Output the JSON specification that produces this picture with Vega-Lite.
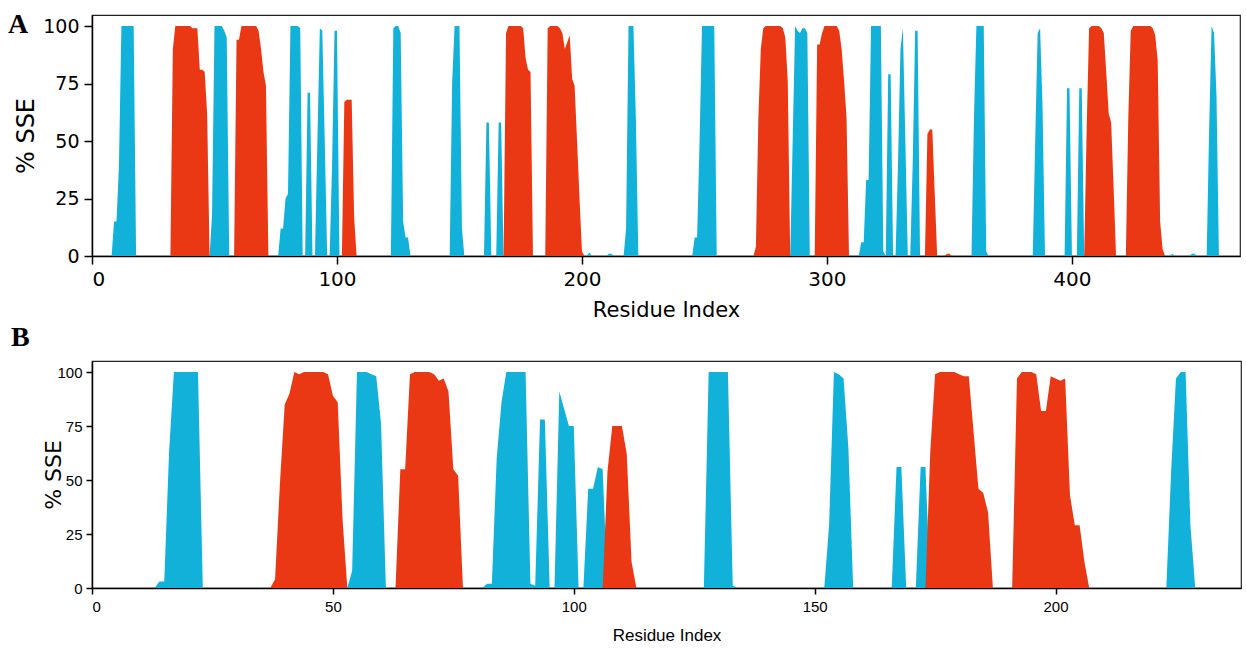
{
 "$schema": "https://vega.github.io/schema/vega-lite/v6.json",
 "background": "white",
 "padding": {"left": 7, "top": 10, "right": 2, "bottom": 0},
 "bounds": "flush",
 "spacing": 105,
 "config": {
   "view": {"stroke": "#222", "strokeWidth": 1.2},
   "axis": {"domainColor": "black", "tickColor": "black", "labelColor": "black", "titleColor": "black", "grid": false, "domainWidth": 1.5, "tickWidth": 1.5, "titleFontWeight": "normal"}
 },
 "datasets": {
  "aE": [
   {"r":8,"v":0},{"r":9,"v":15},{"r":10,"v":15},{"r":11,"v":39},{"r":12,"v":100},{"r":13,"v":100},{"r":14,"v":100},{"r":15,"v":100},{"r":16,"v":100},{"r":17,"v":100},{"r":18,"v":0},
   {"r":48,"v":0},{"r":49,"v":18},{"r":50,"v":100},{"r":51,"v":100},{"r":52,"v":100},{"r":53,"v":100},{"r":54,"v":98},{"r":55,"v":95},{"r":56,"v":0},
   {"r":76,"v":0},{"r":77,"v":12},{"r":78,"v":12},{"r":79,"v":25},{"r":80,"v":27},{"r":81,"v":100},{"r":82,"v":100},{"r":83,"v":100},{"r":84,"v":100},{"r":85,"v":99},{"r":86,"v":0},
   {"r":87,"v":0},{"r":88,"v":71},{"r":89,"v":71},{"r":90,"v":0},
   {"r":91,"v":0},{"r":92,"v":50},{"r":93,"v":99},{"r":94,"v":98},{"r":95,"v":50},{"r":96,"v":0},
   {"r":97,"v":0},{"r":98,"v":40},{"r":99,"v":98},{"r":100,"v":98},{"r":101,"v":0},
   {"r":122,"v":0},{"r":123,"v":99},{"r":124,"v":100},{"r":125,"v":100},{"r":126,"v":97},{"r":127,"v":15},{"r":128,"v":8},{"r":129,"v":8},{"r":130,"v":0},
   {"r":146,"v":0},{"r":147,"v":75},{"r":148,"v":100},{"r":149,"v":100},{"r":150,"v":100},{"r":151,"v":12},{"r":152,"v":0},
   {"r":160,"v":0},{"r":161,"v":58},{"r":162,"v":58},{"r":163,"v":0},
   {"r":165,"v":0},{"r":166,"v":58},{"r":167,"v":58},{"r":168,"v":0},
   {"r":202,"v":0},{"r":203,"v":1.5},{"r":204,"v":0},
   {"r":210,"v":0},{"r":211,"v":1},{"r":212,"v":1},{"r":213,"v":0},
   {"r":217,"v":0},{"r":218,"v":12},{"r":219,"v":100},{"r":220,"v":100},{"r":221,"v":100},{"r":222,"v":60},{"r":223,"v":0},
   {"r":245,"v":0},{"r":246,"v":8},{"r":247,"v":8},{"r":248,"v":50},{"r":249,"v":100},{"r":250,"v":100},{"r":251,"v":100},{"r":252,"v":100},{"r":253,"v":100},{"r":254,"v":100},{"r":255,"v":0},
   {"r":285,"v":0},{"r":286,"v":50},{"r":287,"v":100},{"r":288,"v":98},{"r":289,"v":97},{"r":290,"v":99},{"r":291,"v":99},{"r":292,"v":97},{"r":293,"v":0},
   {"r":313,"v":0},{"r":314,"v":6},{"r":315,"v":6},{"r":316,"v":33},{"r":317,"v":33},{"r":318,"v":100},{"r":319,"v":100},{"r":320,"v":100},{"r":321,"v":100},{"r":322,"v":100},{"r":323,"v":2},{"r":324,"v":0},{"r":325,"v":79},{"r":326,"v":79},{"r":327,"v":0},
   {"r":328,"v":0},{"r":329,"v":40},{"r":330,"v":90},{"r":331,"v":99},{"r":332,"v":50},{"r":333,"v":0},
   {"r":334,"v":0},{"r":335,"v":40},{"r":336,"v":98},{"r":337,"v":98},{"r":338,"v":0},
   {"r":359,"v":0},{"r":360,"v":60},{"r":361,"v":100},{"r":362,"v":100},{"r":363,"v":100},{"r":364,"v":100},{"r":365,"v":2},{"r":366,"v":0},
   {"r":384,"v":0},{"r":385,"v":50},{"r":386,"v":97},{"r":387,"v":99},{"r":388,"v":65},{"r":389,"v":0},
   {"r":397,"v":0},{"r":398,"v":73},{"r":399,"v":73},{"r":400,"v":0},
   {"r":402,"v":0},{"r":403,"v":73},{"r":404,"v":73},{"r":405,"v":0},
   {"r":440,"v":0},{"r":441,"v":1},{"r":442,"v":0},
   {"r":448,"v":0},{"r":449,"v":1},{"r":450,"v":1},{"r":451,"v":0},
   {"r":455,"v":0},{"r":456,"v":55},{"r":457,"v":100},{"r":458,"v":97},{"r":459,"v":70},{"r":460,"v":0}
  ],
  "aH": [
   {"r":32,"v":0},{"r":33,"v":90},{"r":34,"v":100},{"r":35,"v":100},{"r":36,"v":100},{"r":37,"v":100},{"r":38,"v":100},{"r":39,"v":100},{"r":40,"v":100},{"r":41,"v":99},{"r":42,"v":99},{"r":43,"v":99},{"r":44,"v":81},{"r":45,"v":81},{"r":46,"v":80},{"r":47,"v":62},{"r":48,"v":0},
   {"r":58,"v":0},{"r":59,"v":94},{"r":60,"v":94},{"r":61,"v":100},{"r":62,"v":100},{"r":63,"v":100},{"r":64,"v":100},{"r":65,"v":100},{"r":66,"v":100},{"r":67,"v":100},{"r":68,"v":98},{"r":69,"v":90},{"r":70,"v":80},{"r":71,"v":74},{"r":72,"v":0},
   {"r":102,"v":0},{"r":103,"v":67},{"r":104,"v":68},{"r":105,"v":68},{"r":106,"v":68},{"r":107,"v":17},{"r":108,"v":0},
   {"r":168,"v":0},{"r":169,"v":97},{"r":170,"v":100},{"r":171,"v":100},{"r":172,"v":100},{"r":173,"v":100},{"r":174,"v":100},{"r":175,"v":100},{"r":176,"v":99},{"r":177,"v":86},{"r":178,"v":81},{"r":179,"v":80},{"r":180,"v":0},
   {"r":185,"v":0},{"r":186,"v":99},{"r":187,"v":100},{"r":188,"v":100},{"r":189,"v":100},{"r":190,"v":100},{"r":191,"v":99},{"r":192,"v":97},{"r":193,"v":90},{"r":194,"v":93},{"r":195,"v":96},{"r":196,"v":77},{"r":197,"v":74},{"r":198,"v":50},{"r":199,"v":25},{"r":200,"v":2},{"r":201,"v":0},
   {"r":270,"v":0},{"r":271,"v":4},{"r":272,"v":60},{"r":273,"v":90},{"r":274,"v":99},{"r":275,"v":100},{"r":276,"v":100},{"r":277,"v":100},{"r":278,"v":100},{"r":279,"v":100},{"r":280,"v":100},{"r":281,"v":100},{"r":282,"v":99},{"r":283,"v":95},{"r":284,"v":76},{"r":285,"v":0},
   {"r":295,"v":0},{"r":296,"v":92},{"r":297,"v":92},{"r":298,"v":97},{"r":299,"v":100},{"r":300,"v":100},{"r":301,"v":100},{"r":302,"v":100},{"r":303,"v":100},{"r":304,"v":100},{"r":305,"v":98},{"r":306,"v":90},{"r":307,"v":76},{"r":308,"v":60},{"r":309,"v":0},
   {"r":340,"v":0},{"r":341,"v":53},{"r":342,"v":55},{"r":343,"v":55},{"r":344,"v":27},{"r":345,"v":0},
   {"r":348,"v":0},{"r":349,"v":1},{"r":350,"v":1},{"r":351,"v":0},
   {"r":405,"v":0},{"r":406,"v":55},{"r":407,"v":99},{"r":408,"v":100},{"r":409,"v":100},{"r":410,"v":100},{"r":411,"v":100},{"r":412,"v":99},{"r":413,"v":97},{"r":414,"v":80},{"r":415,"v":62},{"r":416,"v":58},{"r":417,"v":30},{"r":418,"v":0},
   {"r":422,"v":0},{"r":423,"v":60},{"r":424,"v":98},{"r":425,"v":100},{"r":426,"v":100},{"r":427,"v":100},{"r":428,"v":100},{"r":429,"v":100},{"r":430,"v":100},{"r":431,"v":100},{"r":432,"v":100},{"r":433,"v":99},{"r":434,"v":96},{"r":435,"v":85},{"r":436,"v":15},{"r":437,"v":3},{"r":438,"v":0}
  ],
  "bE": [
   {"r":13,"v":0},{"r":14,"v":3},{"r":15,"v":3},{"r":16,"v":63},{"r":17,"v":100},{"r":18,"v":100},{"r":19,"v":100},{"r":20,"v":100},{"r":21,"v":100},{"r":22,"v":100},{"r":23,"v":0},
   {"r":53,"v":0},{"r":54,"v":8},{"r":55,"v":100},{"r":56,"v":100},{"r":57,"v":100},{"r":58,"v":99},{"r":59,"v":98},{"r":60,"v":76},{"r":61,"v":0},
   {"r":81,"v":0},{"r":82,"v":2},{"r":83,"v":2},{"r":84,"v":60},{"r":85,"v":86},{"r":86,"v":100},{"r":87,"v":100},{"r":88,"v":100},{"r":89,"v":100},{"r":90,"v":100},{"r":91,"v":2},{"r":92,"v":1},{"r":93,"v":78},{"r":94,"v":78},{"r":95,"v":0},
   {"r":96,"v":0},{"r":97,"v":91},{"r":98,"v":83},{"r":99,"v":75},{"r":100,"v":75},{"r":101,"v":0},
   {"r":102,"v":0},{"r":103,"v":46},{"r":104,"v":46},{"r":105,"v":56},{"r":106,"v":55},{"r":107,"v":0},
   {"r":127,"v":0},{"r":128,"v":100},{"r":129,"v":100},{"r":130,"v":100},{"r":131,"v":100},{"r":132,"v":100},{"r":133,"v":1},{"r":134,"v":0},
   {"r":152,"v":0},{"r":153,"v":29},{"r":154,"v":100},{"r":155,"v":99},{"r":156,"v":97},{"r":157,"v":65},{"r":158,"v":0},
   {"r":166,"v":0},{"r":167,"v":56},{"r":168,"v":56},{"r":169,"v":0},
   {"r":171,"v":0},{"r":172,"v":56},{"r":173,"v":56},{"r":174,"v":0},
   {"r":223,"v":0},{"r":224,"v":54},{"r":225,"v":97},{"r":226,"v":100},{"r":227,"v":100},{"r":228,"v":29},{"r":229,"v":0}
  ],
  "bH": [
   {"r":37,"v":0},{"r":38,"v":4},{"r":39,"v":48},{"r":40,"v":85},{"r":41,"v":90},{"r":42,"v":100},{"r":43,"v":99},{"r":44,"v":100},{"r":45,"v":100},{"r":46,"v":100},{"r":47,"v":100},{"r":48,"v":100},{"r":49,"v":99},{"r":50,"v":89},{"r":51,"v":86},{"r":52,"v":32},{"r":53,"v":0},
   {"r":63,"v":0},{"r":64,"v":55},{"r":65,"v":55},{"r":66,"v":99},{"r":67,"v":100},{"r":68,"v":100},{"r":69,"v":100},{"r":70,"v":100},{"r":71,"v":99},{"r":72,"v":96},{"r":73,"v":97},{"r":74,"v":91},{"r":75,"v":55},{"r":76,"v":52},{"r":77,"v":0},
   {"r":106,"v":0},{"r":107,"v":54},{"r":108,"v":75},{"r":109,"v":75},{"r":110,"v":75},{"r":111,"v":62},{"r":112,"v":12},{"r":113,"v":0},
   {"r":173,"v":0},{"r":174,"v":63},{"r":175,"v":99},{"r":176,"v":100},{"r":177,"v":100},{"r":178,"v":100},{"r":179,"v":100},{"r":180,"v":99},{"r":181,"v":98},{"r":182,"v":98},{"r":183,"v":72},{"r":184,"v":46},{"r":185,"v":44},{"r":186,"v":35},{"r":187,"v":0},
   {"r":191,"v":0},{"r":192,"v":97},{"r":193,"v":100},{"r":194,"v":100},{"r":195,"v":100},{"r":196,"v":99},{"r":197,"v":82},{"r":198,"v":82},{"r":199,"v":98},{"r":200,"v":97},{"r":201,"v":96},{"r":202,"v":97},{"r":203,"v":43},{"r":204,"v":29},{"r":205,"v":29},{"r":206,"v":12},{"r":207,"v":0}
  ]
 },
 "vconcat": [
  {
   "width": 1148,
   "height": 241,
   "title": {"text": "A", "anchor": "start", "frame": "group", "dx": -84, "offset": -46, "baseline": "alphabetic", "font": "Liberation Serif", "fontSize": 28, "fontWeight": "bold", "color": "black"},
   "encoding": {
    "x": {"field": "r", "type": "quantitative", "scale": {"domain": [0, 468.6], "nice": false, "zero": false},
          "axis": {"values": [0, 100, 200, 300, 400], "title": "Residue Index", "labelFont": "DejaVu Sans", "labelFontSize": 20, "titleFont": "DejaVu Sans", "titleFontSize": 21, "tickSize": 8, "labelPadding": 5, "titlePadding": 10}},
    "y": {"field": "v", "type": "quantitative", "stack": null, "scale": {"domain": [0, 104.8], "nice": false},
          "axis": {"values": [0, 25, 50, 75, 100], "title": "% SSE", "labelFont": "DejaVu Sans", "labelFontSize": 19, "titleFont": "DejaVu Sans", "titleFontSize": 24, "tickSize": 8, "labelPadding": 5, "titlePadding": 4}}
   },
   "layer": [
    {"data": {"name": "aE"}, "mark": {"type": "area", "color": "#12B1D9", "interpolate": "linear"}},
    {"data": {"name": "aH"}, "mark": {"type": "area", "color": "#EA3814", "interpolate": "linear"}}
   ]
  },
  {
   "width": 1149,
   "height": 227,
   "title": {"text": "B", "anchor": "start", "frame": "group", "dx": -81, "offset": -13, "baseline": "alphabetic", "font": "Liberation Serif", "fontSize": 28, "fontWeight": "bold", "color": "black"},
   "encoding": {
    "x": {"field": "r", "type": "quantitative", "scale": {"domain": [0, 238.5], "nice": false, "zero": false},
          "axis": {"values": [0, 50, 100, 150, 200], "title": "Residue Index", "labelFont": "Liberation Sans", "labelFontSize": 15, "titleFont": "Liberation Sans", "titleFontSize": 17, "tickSize": 6, "labelPadding": 5, "titlePadding": 13}},
    "y": {"field": "v", "type": "quantitative", "stack": null, "scale": {"domain": [0, 105.1], "nice": false},
          "axis": {"values": [0, 25, 50, 75, 100], "title": "% SSE", "labelFont": "Liberation Sans", "labelFontSize": 15, "titleFont": "DejaVu Sans", "titleFontSize": 22, "tickSize": 6, "labelPadding": 4, "titlePadding": -9}}
   },
   "layer": [
    {"data": {"name": "bE"}, "mark": {"type": "area", "color": "#12B1D9", "interpolate": "linear"}},
    {"data": {"name": "bH"}, "mark": {"type": "area", "color": "#EA3814", "interpolate": "linear"}}
   ]
  }
 ]
}
